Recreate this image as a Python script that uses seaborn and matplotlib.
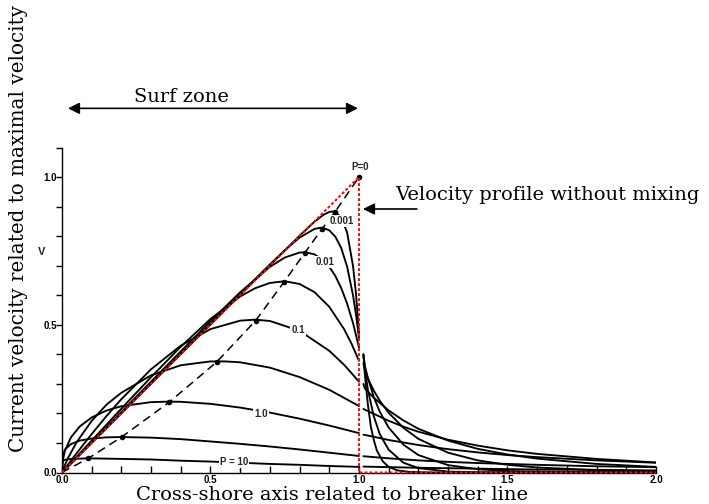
import matplotlib
matplotlib.use("Agg")
import matplotlib.pyplot as plt
from matplotlib.ticker import MultipleLocator
import seaborn as sns
import pandas as pd

# ---------------- data ----------------
# inner (surf zone) parts of the profiles, X <= 1
X_IN_P0001 = [0, 0.8, 0.85, 0.88, 0.9, 0.91, 0.92, 0.94, 0.96, 0.98, 0.99, 1.0]
V_IN_P0001 = [0, 0.8015, 0.8486, 0.872, 0.8818, 0.8835, 0.882, 0.8641, 0.8123, 0.6989, 0.6046, 0.4735]
X_IN_P0003 = [0, 0.6, 0.7, 0.75, 0.8, 0.85, 0.87, 0.88, 0.9, 0.92, 0.94, 0.96, 0.98, 0.99, 1.0]
V_IN_P0003 = [0, 0.6045, 0.7042, 0.7521, 0.795, 0.8244, 0.8285, 0.8278, 0.8197, 0.7989, 0.7605, 0.6972, 0.5999, 0.5346, 0.4555]
X_IN_P001 = [0, 0.4, 0.5, 0.6, 0.7, 0.75, 0.8, 0.82, 0.85, 0.88, 0.9, 0.92, 0.94, 0.96, 0.98, 1.0]
V_IN_P001 = [0, 0.4101, 0.5119, 0.6101, 0.6959, 0.7275, 0.7445, 0.7455, 0.7384, 0.7186, 0.6965, 0.6658, 0.6249, 0.5721, 0.5058, 0.4233]
X_IN_P003 = [0, 0.1, 0.15, 0.2, 0.3, 0.4, 0.5, 0.6, 0.65, 0.7, 0.75, 0.8, 0.85, 0.9, 0.95, 0.975, 1.0]
V_IN_P003 = [0, 0.1081, 0.1621, 0.216, 0.3228, 0.4257, 0.5196, 0.5959, 0.6236, 0.6416, 0.6474, 0.6381, 0.6106, 0.561, 0.485, 0.4358, 0.3781]
X_IN_P01 = [0, 0.02, 0.05, 0.1, 0.15, 0.2, 0.3, 0.4, 0.5, 0.6, 0.65, 0.7, 0.8, 0.9, 0.95, 1.0]
V_IN_P01 = [0, 0.0266, 0.0661, 0.1301, 0.1911, 0.2483, 0.3494, 0.4295, 0.4854, 0.514, 0.5173, 0.5129, 0.4796, 0.4119, 0.3645, 0.3077]
X_IN_P03 = [0, 0.005, 0.02, 0.05, 0.1, 0.15, 0.2, 0.3, 0.4, 0.5, 0.55, 0.6, 0.7, 0.8, 0.9, 1.0]
V_IN_P03 = [0, 0.0142, 0.0486, 0.1035, 0.1746, 0.2298, 0.270, 0.329, 0.363, 0.376, 0.376, 0.373, 0.355, 0.323, 0.280, 0.225]
X_IN_P1 = [0, 0.003, 0.01, 0.03, 0.06, 0.1, 0.15, 0.2, 0.3, 0.36, 0.4, 0.5, 0.6, 0.7, 0.8, 0.9, 1.0]
V_IN_P1 = [0, 0.0418, 0.0733, 0.1186, 0.156, 0.1863, 0.2098, 0.2244, 0.2382, 0.24, 0.2393, 0.2324, 0.2197, 0.2027, 0.1822, 0.1589, 0.1333]
X_IN_P3 = [0, 0.002, 0.01, 0.03, 0.06, 0.1, 0.15, 0.2, 0.3, 0.4, 0.5, 0.6, 0.7, 0.8, 0.9, 1.0]
V_IN_P3 = [0, 0.056, 0.078, 0.096, 0.108, 0.115, 0.119, 0.120, 0.118, 0.113, 0.105, 0.097, 0.088, 0.078, 0.067, 0.056]
X_IN_P10 = [0, 0.001, 0.01, 0.03, 0.06, 0.09, 0.2, 0.3, 0.4, 0.5, 0.6, 0.7, 0.8, 0.9, 1.0]
V_IN_P10 = [0, 0.037, 0.043, 0.046, 0.047, 0.048, 0.046, 0.044, 0.040, 0.037, 0.033, 0.029, 0.026, 0.022, 0.019]

# outer parts of the profiles, X > 1
X_OUT_P0001 = [1.015, 1.02, 1.03, 1.04, 1.05, 1.06, 1.08, 1.1, 1.13, 1.17, 1.25, 2.0]
V_OUT_P0001 = [0.40, 0.33, 0.23, 0.155, 0.11, 0.075, 0.038, 0.019, 0.007, 0.002, 0.0, 0.0]
X_OUT_P0003 = [1.015, 1.02, 1.03, 1.05, 1.07, 1.1, 1.15, 1.2, 1.3, 1.4, 2.0]
V_OUT_P0003 = [0.40, 0.35, 0.28, 0.19, 0.13, 0.077, 0.033, 0.015, 0.003, 0.001, 0.0]
X_OUT_P001 = [1.015, 1.02, 1.03, 1.05, 1.07, 1.1, 1.15, 1.2, 1.3, 1.4, 1.5, 1.6, 2.0]
V_OUT_P001 = [0.395, 0.36, 0.32, 0.255, 0.206, 0.152, 0.094, 0.059, 0.025, 0.011, 0.005, 0.003, 0.0002]
X_OUT_P003 = [1.015, 1.02, 1.03, 1.05, 1.07, 1.1, 1.15, 1.2, 1.3, 1.4, 1.5, 1.6, 1.8, 2.0]
V_OUT_P003 = [0.37, 0.345, 0.318, 0.277, 0.243, 0.202, 0.151, 0.114, 0.067, 0.041, 0.026, 0.017, 0.008, 0.004]
X_OUT_P01 = [1.015, 1.02, 1.05, 1.1, 1.15, 1.2, 1.3, 1.4, 1.5, 1.6, 1.8, 2.0]
V_OUT_P01 = [0.30, 0.284, 0.253, 0.21, 0.176, 0.148, 0.108, 0.08, 0.061, 0.047, 0.029, 0.019]
X_OUT_P03 = [1.015, 1.05, 1.1, 1.15, 1.2, 1.3, 1.4, 1.5, 1.6, 1.8, 2.0]
V_OUT_P03 = [0.215, 0.1985, 0.175, 0.155, 0.138, 0.111, 0.091, 0.075, 0.063, 0.046, 0.034]
X_OUT_P1 = [1.015, 1.05, 1.1, 1.2, 1.3, 1.4, 1.5, 1.6, 1.8, 2.0]
V_OUT_P1 = [0.128, 0.121, 0.110, 0.093, 0.079, 0.068, 0.059, 0.052, 0.041, 0.033]
X_OUT_P3 = [1.015, 1.1, 1.2, 1.3, 1.4, 1.5, 1.6, 1.8, 2.0]
V_OUT_P3 = [0.055, 0.048, 0.041, 0.036, 0.032, 0.029, 0.026, 0.021, 0.018]
X_OUT_P10 = [1.015, 1.2, 1.4, 1.6, 1.8, 2.0]
V_OUT_P10 = [0.020, 0.016, 0.013, 0.010, 0.009, 0.007]

# maxima of each profile (dots) and the P=0 apex
MAX_X = [0.089, 0.202, 0.361, 0.522, 0.652, 0.747, 0.818, 0.875, 0.92, 1.0]
MAX_V = [0.048, 0.121, 0.238, 0.375, 0.514, 0.644, 0.744, 0.824, 0.883, 1.0]

# velocity profile without mixing (red dotted)
RED_X = [0.0, 1.0, 1.0, 2.0]
RED_V = [0.0, 1.0, 0.0, 0.0]

# curve labels
LABEL_TEXT = ["P=0", "0.001", "0.01", "0.1", "1.0", "P = 10"]
LABEL_X = [1.003, 0.941, 0.885, 0.795, 0.670, 0.58]
LABEL_V = [1.018, 0.852, 0.712, 0.482, 0.198, 0.036]

X_TICKS = [0.0, 0.5, 1.0, 1.5, 2.0]
X_TICKLABELS = ["0.0", "0.5", "1.0", "1.5", "2.0"]
Y_TICKS = [0.0, 0.5, 1.0]
Y_TICKLABELS = ["0.0", "0.5", "1.0"]

# ---------------- figure ----------------
sns.set_theme(style="ticks")
plt.rcParams["font.family"] = ["DejaVu Serif"]

fig = plt.figure(figsize=(7.09, 5.04), dpi=100)
ax = fig.add_axes([0.0874, 0.0625, 0.8378, 0.6448])

segments = [
    (X_IN_P0001, V_IN_P0001), (X_IN_P0003, V_IN_P0003), (X_IN_P001, V_IN_P001),
    (X_IN_P003, V_IN_P003), (X_IN_P01, V_IN_P01), (X_IN_P03, V_IN_P03),
    (X_IN_P1, V_IN_P1), (X_IN_P3, V_IN_P3), (X_IN_P10, V_IN_P10),
    (X_OUT_P0001, V_OUT_P0001), (X_OUT_P0003, V_OUT_P0003), (X_OUT_P001, V_OUT_P001),
    (X_OUT_P003, V_OUT_P003), (X_OUT_P01, V_OUT_P01), (X_OUT_P03, V_OUT_P03),
    (X_OUT_P1, V_OUT_P1), (X_OUT_P3, V_OUT_P3), (X_OUT_P10, V_OUT_P10),
]
rows = []
for i, (xs, vs) in enumerate(segments):
    for x, v in zip(xs, vs):
        rows.append({"x": x, "v": v, "seg": i})
df = pd.DataFrame(rows)

sns.lineplot(data=df, x="x", y="v", units="seg", estimator=None, sort=False,
             color="black", lw=1.35, ax=ax, legend=False, zorder=2)

# locus of maxima (dashed) + dots
dash_df = pd.DataFrame({"x": [0.0] + MAX_X, "v": [0.0] + MAX_V})
sns.lineplot(data=dash_df, x="x", y="v", sort=False, estimator=None, color="black",
             lw=1.1, ax=ax, dashes=False, linestyle=(0, (5.5, 3.5)), zorder=2)
sns.scatterplot(x=MAX_X, y=MAX_V, color="black", s=16, ax=ax, zorder=4,
                edgecolor="black", linewidth=0)

# profile without mixing
red_df = pd.DataFrame({"x": RED_X, "v": RED_V})
sns.lineplot(data=red_df, x="x", y="v", sort=False, estimator=None, color="#ee1111",
             lw=1.5, ax=ax, linestyle=(0, (1.4, 1.0)), zorder=5, clip_on=False)

label_font = dict(family=["Liberation Sans", "DejaVu Sans"], weight="bold", size=7)
for t, lx, lv in zip(LABEL_TEXT, LABEL_X, LABEL_V):
    if t == "P=0":
        ax.text(lx, lv, t, ha="center", va="bottom", zorder=6, fontdict=label_font)
    else:
        ax.text(lx, lv, t, ha="center", va="center", zorder=3, fontdict=label_font,
                bbox=dict(facecolor="white", edgecolor="none", pad=0.6))

ax.text(-0.07, 0.747, "V", ha="center", va="center", fontdict=dict(
    family=["Liberation Sans", "DejaVu Sans"], weight="bold", size=8), clip_on=False)

ax.set_xlim(0, 2.0)
ax.set_ylim(0, 1.1)
ax.set_xticks(X_TICKS)
ax.set_xticklabels(X_TICKLABELS)
ax.set_yticks(Y_TICKS)
ax.set_yticklabels(Y_TICKLABELS)
ax.xaxis.set_minor_locator(MultipleLocator(0.1))
ax.yaxis.set_minor_locator(MultipleLocator(0.1))
ax.tick_params(axis="x", which="both", direction="in", length=5, width=1,
               pad=2, colors="black")
ax.tick_params(axis="y", which="both", direction="out", length=4.3, width=1,
               pad=-0.5, colors="black")
for lab in ax.get_xticklabels() + ax.get_yticklabels():
    lab.set_fontfamily(["Liberation Sans", "DejaVu Sans"])
    lab.set_fontweight("bold")
    lab.set_fontsize(7)
ax.set_xlabel("")
ax.set_ylabel("")
sns.despine(ax=ax)
for s in ("left", "bottom"):
    ax.spines[s].set_color("black")
    ax.spines[s].set_linewidth(1.0)

# big annotations
big = dict(family=["DejaVu Serif"], size=14, color="black")
fig.text(0.468, 0.008, "Cross-shore axis related to breaker line", ha="center",
         va="baseline", fontdict=big)
fig.text(0.0254, 0.5476, "Current velocity related to maximal velocity", ha="center",
         va="center", rotation=90, fontdict=dict(big, size=14.3))
fig.text(0.2553, 0.7976, "Surf zone", ha="center", va="baseline", fontdict=big)
fig.text(0.557, 0.603, "Velocity profile without mixing", ha="left", va="baseline",
         fontdict=big)

ax.annotate("", xy=(0.0959, 0.785), xytext=(0.505, 0.785), xycoords="figure fraction",
            textcoords="figure fraction",
            arrowprops=dict(arrowstyle="<|-|>", mutation_scale=17, lw=1.2, color="black",
                            shrinkA=0, shrinkB=0))
ax.annotate("", xy=(0.512, 0.5853), xytext=(0.588, 0.5853), xycoords="figure fraction",
            textcoords="figure fraction",
            arrowprops=dict(arrowstyle="-|>", mutation_scale=17, lw=1.2, color="black",
                            shrinkA=0, shrinkB=0))

fig.savefig("out.png", dpi=100, facecolor="white")
